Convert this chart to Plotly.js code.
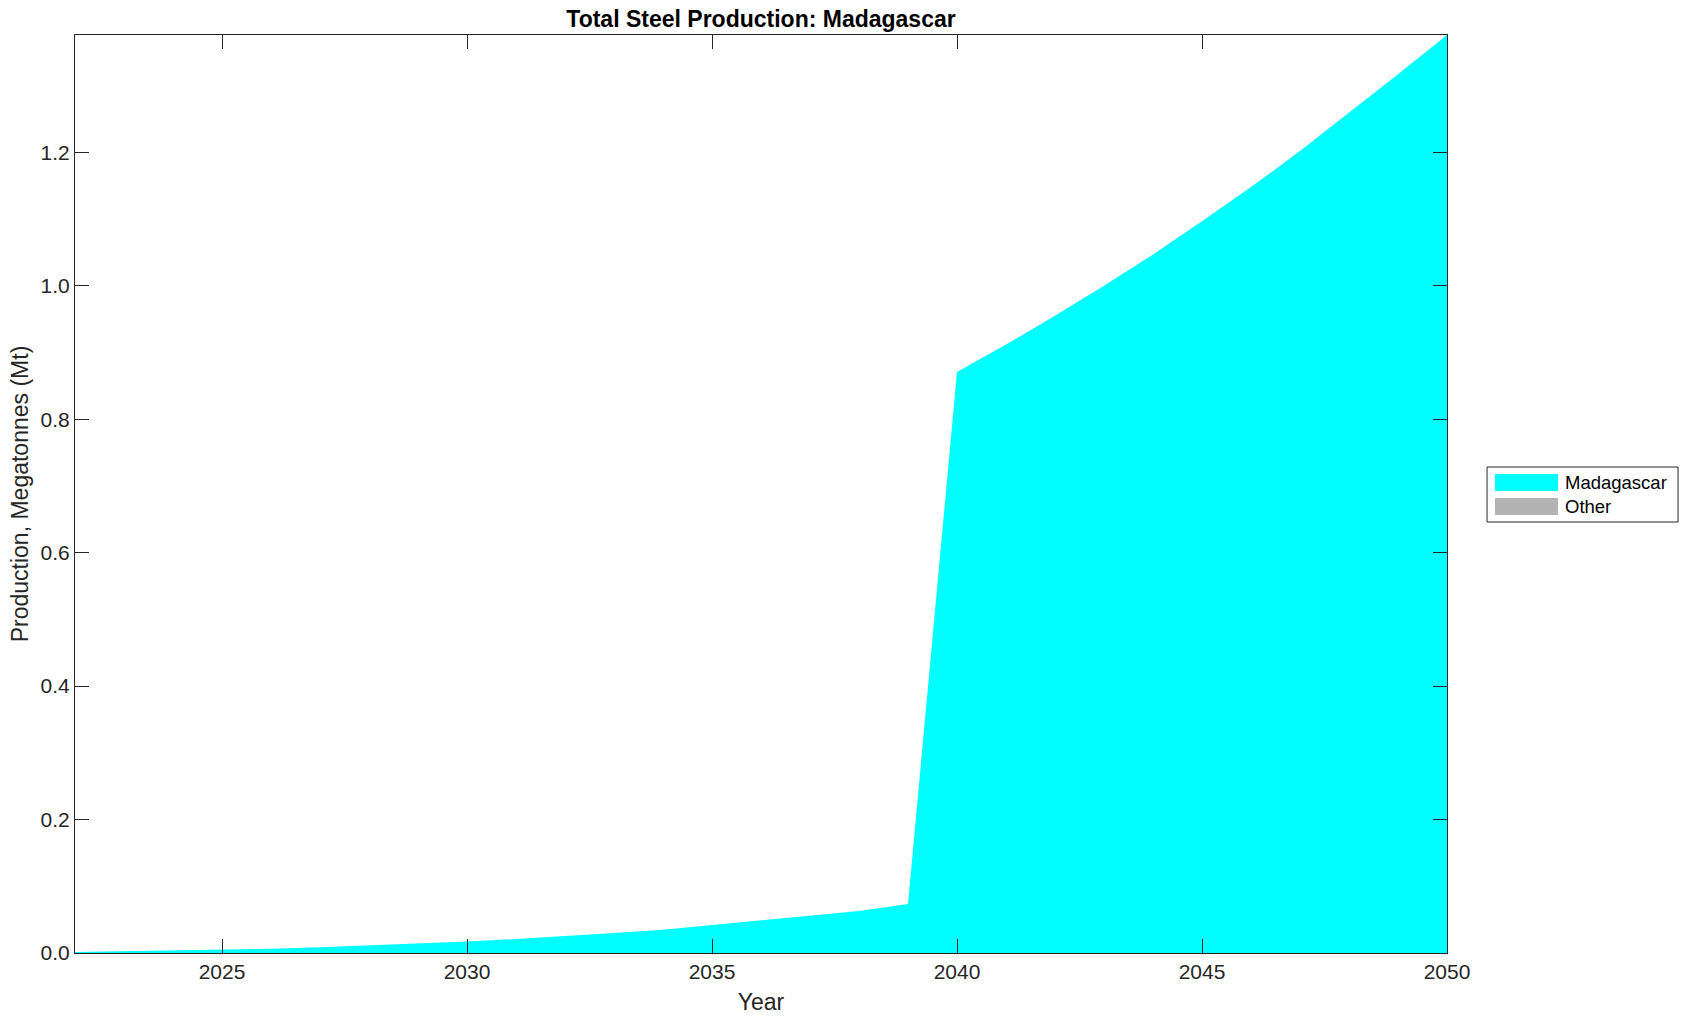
<!DOCTYPE html>
<html>
<head>
<meta charset="utf-8">
<script src="https://cdn.plot.ly/plotly-3.0.1.min.js"></script>
<style>html,body{margin:0;padding:0;background:#fff;}#chart{width:1689px;height:1021px;}</style>
</head>
<body>
<div id="chart"></div>
<script>
const years = [2022,2023,2024,2025,2026,2027,2028,2029,2030,2031,2032,2033,2034,2035,2036,2037,2038,2039,2040,2041,2042,2043,2044,2045,2046,2047,2048,2049,2050];
const madagascar = [0.0015,0.0025,0.0035,0.0045,0.0065,0.0088,0.0114,0.0142,0.0174,0.021,0.025,0.030,0.035,0.042,0.048,0.055,0.063,0.0734,0.871,0.912,0.955,1.000,1.047,1.097,1.148,1.202,1.259,1.317,1.376];
const other = years.map(() => 0);
const seriesNames = ['Madagascar', 'Other'];
const seriesColors = ['#00ffff', '#b3b3b3'];
const xTicks = [2025, 2030, 2035, 2040, 2045, 2050];
const yTicks = [0, 0.2, 0.4, 0.6, 0.8, 1.0, 1.2];

const FONT = 'Liberation Sans, Arial, Helvetica, sans-serif';
const TXT = '#262626';

const traces = [
  {x: years, y: madagascar, name: seriesNames[0], type: 'scatter', mode: 'lines',
   stackgroup: 'one', line: {width: 0, color: seriesColors[0]}, fillcolor: seriesColors[0], showlegend: false},
  {x: years, y: other, name: seriesNames[1], type: 'scatter', mode: 'lines',
   stackgroup: 'one', line: {width: 0, color: seriesColors[1]}, fillcolor: seriesColors[1], showlegend: false}
];

const ymax = Math.max(...madagascar.map((v, i) => v + other[i]));

// custom legend (paper coordinates)
const lg = {x0: 1.0292, x1: 1.1684, y0: 0.4695, y1: 0.5294};
const sw = [{y0: 0.5033, y1: 0.5218}, {y0: 0.4771, y1: 0.4956}];
const shapes = [
  {type: 'rect', xref: 'paper', yref: 'paper', x0: lg.x0, x1: lg.x1, y0: lg.y0, y1: lg.y1,
   line: {color: TXT, width: 1}, fillcolor: '#ffffff'}
];
const annotations = [];
seriesNames.forEach((n, i) => {
  shapes.push({type: 'rect', xref: 'paper', yref: 'paper', x0: 1.0350, x1: 1.0809,
    y0: sw[i].y0, y1: sw[i].y1, line: {width: 0}, fillcolor: seriesColors[i]});
  annotations.push({xref: 'paper', yref: 'paper', x: 1.0845, y: (sw[i].y0 + sw[i].y1) / 2,
    xanchor: 'left', yanchor: 'middle', text: n, showarrow: false,
    font: {family: FONT, size: 18.5, color: '#000000'}});
});

const layout = {
  width: 1689, height: 1021,
  margin: {l: 75, r: 242, t: 35, b: 68, pad: 0},
  paper_bgcolor: '#ffffff', plot_bgcolor: '#ffffff',
  showlegend: false,
  title: {text: '<b>Total Steel Production: Madagascar</b>', x: 0.5, xref: 'paper',
    y: 0.981, yref: 'container', yanchor: 'middle',
    font: {family: FONT, size: 23, color: '#000000'}},
  xaxis: {
    range: [2022, 2050], tickvals: xTicks, ticktext: xTicks.map(String),
    ticks: 'inside', ticklen: 14, tickwidth: 1, tickcolor: TXT,
    showline: true, linecolor: TXT, linewidth: 1, mirror: 'ticks',
    showgrid: false, zeroline: false,
    tickfont: {family: FONT, size: 21, color: TXT},
    title: {text: 'Year', font: {family: FONT, size: 23, color: TXT}, standoff: 11}
  },
  yaxis: {
    range: [0, ymax], tickvals: yTicks, ticktext: yTicks.map(v => v.toFixed(1)),
    ticks: 'inside', ticklen: 14, tickwidth: 1, tickcolor: TXT,
    showline: true, linecolor: TXT, linewidth: 1, mirror: 'ticks',
    showgrid: false, zeroline: false,
    tickfont: {family: FONT, size: 21, color: TXT},
    title: {text: 'Production, Megatonnes (Mt)', font: {family: FONT, size: 23, color: TXT}, standoff: 5}
  },
  shapes: shapes,
  annotations: annotations
};

Plotly.newPlot('chart', traces, layout, {displayModeBar: false, responsive: false});
</script>
</body>
</html>
